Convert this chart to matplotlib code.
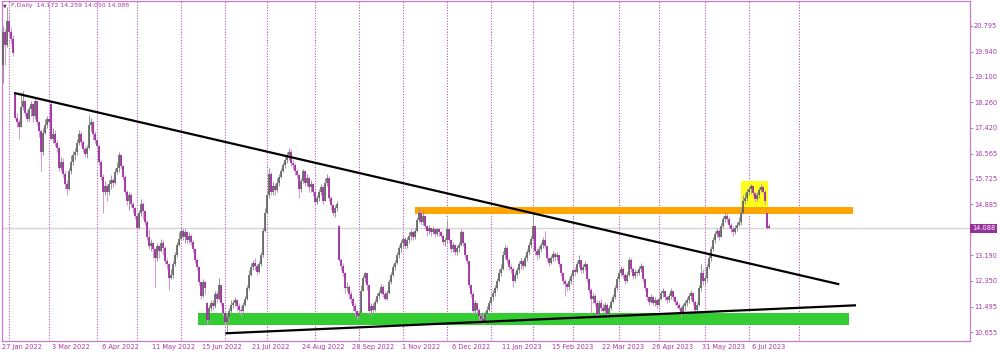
import matplotlib
matplotlib.use("Agg")
import matplotlib.pyplot as plt
from matplotlib.patches import Rectangle

# ---------------- data ----------------
closes = [
    20.6, 20.15, 20.95, 20.6, 20.35, 19.9, 17.75, 17.6, 17.45, 18.1,
    18.3, 17.9, 17.7, 18.05, 18.2, 17.8, 18.3, 17.6, 17.3, 16.6,
    17.25, 17.5, 17.7, 17.6, 17.05, 17.2, 16.9, 16.75, 16.1, 16.3,
    15.9, 15.55, 15.4, 16.0, 16.3, 16.5, 16.6, 16.9, 17.2, 16.95,
    16.7, 16.55, 16.75, 17.5, 17.6, 17.2, 17.0, 16.8, 16.3, 15.8,
    15.3, 15.5, 15.3, 15.55, 15.7, 15.6, 15.95, 16.1, 16.5, 16.15,
    15.8, 15.3, 15.0, 15.2, 14.9, 14.75, 14.5, 14.1, 14.6, 14.9,
    14.65, 14.3, 13.8, 13.5, 13.6, 13.4, 13.1, 13.5, 13.35, 13.6,
    13.45, 13.0, 12.9, 12.45, 12.55, 12.9, 13.2, 13.55, 13.75, 14.0,
    13.8, 13.95, 13.7, 13.85, 13.65, 13.4, 13.05, 12.8, 12.3, 11.85,
    12.3, 12.1, 11.05, 11.45, 11.6, 11.5, 11.9, 11.75, 12.2, 11.6,
    11.3, 11.0, 11.15, 11.35, 11.55, 11.6, 11.7, 11.5, 11.4, 11.35,
    11.55, 11.75, 12.1, 12.55, 12.8, 12.95, 12.85, 12.65, 12.9, 13.2,
    14.0, 14.6, 15.2, 15.9, 15.3, 15.5, 15.35, 15.6, 15.8, 16.0,
    16.2, 16.35, 16.5, 16.6, 16.25, 16.2, 16.0, 15.85, 15.4, 15.65,
    16.0, 15.6, 15.75, 15.45, 15.55, 15.3, 14.95, 15.1, 15.3, 15.45,
    15.0, 15.6, 15.75, 15.1, 14.85, 14.6, 14.75, 14.9, 13.05, 12.85,
    12.6, 12.1, 12.15, 11.9, 11.75, 11.5, 11.35, 11.2, 11.3, 12.0,
    12.45, 12.6, 12.2, 11.35, 11.5, 11.4, 11.65, 11.85, 11.95, 12.15,
    11.9, 11.75, 11.95, 12.3, 12.55, 12.8, 12.95, 13.2, 13.45, 13.6,
    13.75, 13.5, 13.7, 13.85, 13.95, 13.8, 14.0, 14.35, 14.6, 14.3,
    14.5, 14.15, 14.0, 14.1, 13.95, 14.05, 13.9, 14.05, 13.95, 13.85,
    13.65, 13.7, 14.05, 13.7, 13.4, 13.55, 13.3, 13.45, 13.55, 13.95,
    13.6, 13.2, 13.0, 12.2, 11.9, 11.35, 11.6, 11.4, 11.2, 11.1,
    11.0, 11.25, 11.4, 11.6, 11.8, 11.95, 12.1, 12.35, 12.6, 12.75,
    13.2, 13.45, 13.05, 12.8, 12.75, 12.35, 12.55, 12.7, 12.9, 13.0,
    12.85, 13.1, 13.3, 13.55, 13.75, 14.15, 13.35, 13.2, 13.4, 13.55,
    13.7, 13.5, 13.1, 12.95, 13.1, 13.25, 13.15, 13.2, 12.9, 12.6,
    12.35, 12.25, 12.15, 12.35, 12.5, 12.7, 12.65, 12.9, 13.05, 12.7,
    12.8, 12.9, 12.4, 12.05, 11.75, 11.85, 11.6, 11.25, 11.6, 11.45,
    11.35, 11.55, 11.25, 11.45, 11.65, 11.8, 12.1, 12.4, 12.6, 12.75,
    12.55, 12.35, 12.55, 13.05, 12.75, 12.5, 12.65, 12.6, 12.75, 12.85,
    12.4, 12.1, 11.8, 11.65, 11.8, 11.6, 11.7, 11.55, 11.75, 11.95,
    12.0, 11.8, 11.7, 11.85, 12.0, 11.8, 11.65, 11.55, 11.45, 11.3,
    11.5, 11.6, 11.7, 11.85, 11.95, 11.65, 11.4, 11.55, 12.1, 12.6,
    12.35, 12.45, 12.8, 13.1, 13.4, 13.7, 13.9, 14.0, 13.8, 14.15,
    14.4, 14.5, 14.4, 14.2, 14.05, 13.95, 14.1, 14.2, 14.3, 14.6,
    15.0, 15.1, 15.3, 15.4, 15.5, 15.25, 15.05, 15.2, 15.35, 15.45,
    15.3, 15.0, 14.1, 14.088,
]
highs = [
    20.8, 20.7, 21.4, 21.2, 20.75, 20.5, 18.6, 17.9, 17.7, 18.6,
    18.65, 18.35, 18.0, 18.15, 18.3, 18.25, 18.45, 18.3, 17.65, 17.35,
    17.4, 17.7, 17.8, 17.85, 18.3, 17.4, 17.35, 17.0, 16.8, 16.45,
    16.4, 16.0, 15.7, 16.1, 16.5, 16.65, 16.75, 17.05, 17.35, 17.3,
    17.0, 16.8, 16.85, 17.85, 17.75, 17.65, 17.3, 17.05, 16.85, 16.35,
    15.9, 15.65, 15.55, 15.7, 15.85, 15.75, 16.1, 16.3, 16.6, 16.55,
    16.2, 15.85, 15.35, 15.3, 15.25, 14.95, 14.8, 14.55, 14.7, 15.05,
    14.95, 14.7, 14.35, 14.05, 13.75, 13.65, 13.45, 13.6, 13.55, 13.75,
    13.7, 13.5, 13.1, 12.95, 12.75, 13.0, 13.3, 13.65, 13.95, 14.1,
    14.1, 14.05, 14.0, 13.95, 13.9, 13.7, 13.45, 13.1, 12.85, 12.35,
    12.4, 12.35, 11.65, 11.55, 11.7, 11.7, 12.0, 12.0, 12.45, 12.15,
    11.6, 11.35, 11.3, 11.45, 11.7, 11.72, 11.8, 11.75, 11.6, 11.5,
    11.65, 11.85, 12.2, 12.7, 12.95, 13.05, 13.1, 12.9, 13.0, 13.3,
    14.1, 14.75, 15.35, 16.1, 15.95, 15.65, 15.6, 15.75, 15.9, 16.1,
    16.3, 16.45, 16.6, 16.75, 16.7, 16.35, 16.25, 16.05, 15.9, 15.75,
    16.05, 16.0, 15.9, 15.8, 15.7, 15.6, 15.4, 15.2, 15.4, 15.55,
    15.5, 15.75, 15.9, 15.8, 15.15, 14.9, 14.85, 15.0, 14.2, 13.1,
    12.95, 12.5, 12.3, 12.2, 12.0, 11.8, 11.6, 11.4, 11.4, 12.2,
    12.55, 12.65, 12.6, 12.1, 11.6, 11.6, 11.75, 11.95, 12.05, 12.25,
    12.2, 12.0, 12.05, 12.4, 12.65, 12.9, 13.05, 13.3, 13.55, 13.7,
    13.85, 13.8, 13.8, 13.95, 14.05, 14.0, 14.1, 14.45, 14.76, 14.65,
    14.7, 14.5, 14.2, 14.2, 14.1, 14.15, 14.1, 14.1, 14.1, 14.0,
    13.9, 13.8, 14.35, 14.0, 13.75, 13.65, 13.55, 13.55, 13.65, 14.05,
    14.0, 13.6, 13.25, 12.95, 12.25, 12.0, 11.7, 11.6, 11.45, 11.3,
    11.25, 11.35, 11.5, 11.7, 11.85, 12.05, 12.2, 12.45, 12.75, 12.9,
    13.35, 13.55, 13.5, 13.1, 12.9, 12.8, 12.65, 12.8, 13.0, 13.1,
    13.05, 13.2, 13.4, 13.65, 13.85, 14.6, 14.1, 13.45, 13.5, 13.65,
    13.8, 14.0, 13.45, 13.15, 13.2, 13.35, 13.3, 13.3, 13.2, 12.95,
    12.65, 12.4, 12.3, 12.45, 12.6, 12.75, 12.8, 13.0, 13.2, 13.0,
    12.9, 13.0, 12.9, 12.45, 12.1, 11.95, 11.9, 11.7, 11.7, 11.75,
    11.6, 11.65, 11.6, 11.55, 11.75, 11.9, 12.2, 12.5, 12.7, 12.85,
    12.8, 12.6, 12.65, 13.15, 13.1, 12.8, 12.75, 12.7, 12.85, 12.95,
    12.85, 12.4, 12.0, 11.85, 11.9, 11.85, 11.8, 11.75, 11.85, 12.05,
    12.1, 12.0, 11.85, 11.95, 12.1, 12.0, 11.85, 11.7, 11.6, 11.5,
    11.6, 11.7, 11.8, 11.95, 12.05, 11.95, 11.7, 11.65, 12.2, 12.9,
    12.75, 12.55, 12.9, 13.2, 13.5, 13.8, 14.0, 14.1, 14.05, 14.25,
    14.5, 14.62, 14.6, 14.45, 14.25, 14.15, 14.2, 14.3, 14.45, 14.75,
    15.2, 15.25, 15.4, 15.5, 15.55, 15.5, 15.3, 15.3, 15.45, 15.55,
    15.5, 15.35, 14.65, 14.259,
]
lows = [
    18.9, 19.5, 20.1, 20.4, 20.2, 19.8, 17.7, 17.45, 17.05, 17.45,
    18.0, 17.8, 17.6, 17.65, 17.8, 17.6, 17.7, 17.5, 17.1, 16.0,
    16.5, 17.2, 17.4, 17.5, 17.0, 16.9, 16.8, 16.6, 16.0, 16.0,
    15.8, 15.4, 15.2, 15.35, 15.9, 16.2, 16.35, 16.5, 16.85, 16.8,
    16.6, 16.45, 16.4, 16.7, 17.3, 17.0, 16.9, 16.7, 16.2, 15.7,
    14.6, 15.2, 15.0, 15.2, 15.4, 15.45, 15.55, 15.9, 15.95, 16.05,
    15.7, 15.2, 14.85, 14.7, 14.8, 14.6, 14.4, 14.0, 14.05, 14.5,
    14.4, 14.2, 13.7, 13.4, 13.35, 13.1, 12.15, 13.0, 13.1, 13.3,
    13.2, 12.9, 12.75, 12.05, 12.4, 12.45, 12.85, 13.15, 13.5, 13.7,
    13.7, 13.6, 13.6, 13.6, 13.55, 13.3, 12.95, 12.7, 12.2, 11.75,
    11.8, 11.9, 10.95, 11.0, 11.35, 11.4, 11.45, 11.6, 11.7, 11.5,
    11.2, 10.9, 10.62, 10.95, 11.3, 11.45, 11.5, 11.4, 11.3, 11.2,
    11.3, 11.5, 11.7, 12.05, 12.5, 12.7, 12.7, 12.55, 12.6, 12.85,
    13.15, 13.95, 14.55, 15.1, 15.2, 15.2, 15.2, 15.3, 15.5, 15.75,
    15.95, 16.1, 16.25, 16.35, 16.15, 16.05, 15.85, 15.75, 15.1, 15.3,
    15.6, 15.5, 15.5, 15.3, 15.3, 15.15, 14.85, 14.9, 15.0, 15.2,
    14.9, 15.0, 15.5, 15.0, 14.7, 14.5, 14.45, 14.65, 13.0, 12.7,
    12.5, 11.95, 12.0, 11.75, 11.6, 11.35, 11.2, 11.1, 11.1, 11.3,
    12.0, 12.3, 12.05, 11.25, 11.2, 11.3, 11.35, 11.6, 11.75, 11.9,
    11.8, 11.7, 11.7, 11.9, 12.25, 12.5, 12.7, 12.9, 13.1, 13.3,
    13.45, 13.4, 13.45, 13.6, 13.7, 13.7, 13.75, 13.95, 14.3, 14.2,
    14.2, 14.05, 13.85, 13.9, 13.85, 13.9, 13.8, 13.85, 13.85, 13.8,
    13.55, 13.5, 13.6, 13.6, 13.3, 13.3, 13.2, 13.2, 13.3, 13.5,
    13.5, 13.1, 12.9, 12.1, 11.8, 11.25, 11.3, 11.3, 11.1, 11.0,
    10.93, 10.95, 11.15, 11.35, 11.55, 11.7, 11.85, 12.05, 12.3, 12.5,
    12.7, 13.1, 12.95, 12.7, 12.6, 12.15, 12.3, 12.45, 12.6, 12.75,
    12.75, 12.8, 13.0, 13.25, 13.45, 13.7, 13.2, 13.05, 13.1, 13.3,
    13.45, 13.4, 13.0, 12.85, 12.9, 13.0, 13.0, 13.05, 12.8, 12.5,
    12.25, 11.85, 12.0, 12.05, 12.25, 12.4, 12.5, 12.6, 12.8, 12.6,
    12.6, 12.7, 12.3, 11.95, 11.3, 11.6, 11.5, 11.15, 11.2, 11.35,
    11.3, 11.3, 11.15, 11.2, 11.4, 11.6, 11.75, 12.05, 12.3, 12.5,
    12.45, 12.25, 12.3, 12.5, 12.65, 12.4, 12.45, 12.5, 12.55, 12.65,
    12.3, 12.0, 11.7, 11.55, 11.6, 11.55, 11.5, 11.45, 11.5, 11.7,
    11.8, 11.7, 11.6, 11.65, 11.75, 11.7, 11.55, 11.45, 11.4, 11.2,
    11.25, 11.4, 11.5, 11.6, 11.7, 11.55, 11.3, 11.35, 11.5, 12.0,
    12.2, 12.2, 12.3, 12.75, 13.0, 13.35, 13.6, 13.8, 13.7, 13.8,
    14.1, 14.3, 14.3, 14.1, 13.95, 13.85, 13.9, 14.0, 14.15, 14.2,
    14.55, 14.9, 15.0, 15.2, 15.25, 15.15, 14.95, 15.0, 15.1, 15.3,
    15.25, 14.9, 14.05, 14.05,
]
# opens that differ from the previous close (gaps), keyed by bar
gap_opens = {0: 19.5, 6: 18.55, 24: 18.2, 102: 11.6, 168: 14.15, 382: 14.6, 383: 14.172}

date_labels = ["27 Jan 2022", "3 Mar 2022", "6 Apr 2022", "11 May 2022", "15 Jun 2022",
               "21 Jul 2022", "24 Aug 2022", "28 Sep 2022", "1 Nov 2022", "6 Dec 2022",
               "11 Jan 2023", "15 Feb 2023", "22 Mar 2023", "26 Apr 2023", "31 May 2023",
               "6 Jul 2023"]
date_label_bars = [0, 25, 50, 75, 100, 125, 150, 175, 200, 225, 250, 275, 300, 325, 350, 375]
month_start_bars = [3, 23, 47, 67, 89, 111, 132, 156, 178, 200, 222, 244, 265, 285, 308,
                    328, 351, 373, 398]
price_ticks = [20.795, 19.940, 19.100, 18.260, 17.420, 16.565, 15.725, 14.885,
               13.190, 12.350, 11.495, 10.655]
last_price = 14.088
header = "F,Daily  14.172 14.259 14.050 14.088"

# drawn objects (bar index, price)
upper_trend = [(5.75, 18.57), (418.4, 12.234)]
lower_trend = [(111.4, 10.612), (426.75, 11.539)]
green_zone = (97.75, 423.25, 10.897, 11.294)
orange_zone = (206.25, 425.25, 14.572, 14.804)
yellow_box = (369.25, 382.75, 14.79, 15.655)

# ---------------- figure ----------------
W, H = 1000, 354
fig = plt.figure(figsize=(W / 100, H / 100), dpi=100)
fig.patch.set_facecolor("white")
ax = fig.add_axes([2 / W, 13 / H, 968 / W, 340 / H])
ax.set_xlim(-0.25, 483.75)
ax.set_ylim(10.357, 21.615)

frame_c = "#c77cc7"
text_c = "#a53aa5"
for s in ax.spines.values():
    s.set_color(frame_c)
    s.set_linewidth(0.9)

# month separators
for b in month_start_bars:
    ax.axvline(b, color="#b844b8", lw=0.75, ls=(0, (1.0, 1.6)), zorder=1)

# current price line
ax.axhline(last_price, color="#d4d4d4", lw=1.0, zorder=1)

# zones
for (x0, x1, y0, y1), col in [(green_zone, "#33cc33"), (orange_zone, "#ffa500"),
                               (yellow_box, "#ffff1a")]:
    ax.add_patch(Rectangle((x0, y0), x1 - x0, y1 - y0, facecolor=col,
                           edgecolor="none", zorder=2))

# candles
n = len(closes)
bull_x, bull_o, bull_c, bull_h, bull_l = [], [], [], [], []
bear_x, bear_o, bear_c, bear_h, bear_l = [], [], [], [], []
prev = None
for i in range(n):
    o = gap_opens.get(i, prev)
    c = closes[i]
    h = max(highs[i], o, c)
    l = min(lows[i], o, c)
    if c >= o:
        bull_x.append(i); bull_o.append(o); bull_c.append(c); bull_h.append(h); bull_l.append(l)
    else:
        bear_x.append(i); bear_o.append(o); bear_c.append(c); bear_h.append(h); bear_l.append(l)
    prev = c

ax.vlines(bull_x, bull_l, bull_h, color="#9a9a9a", lw=0.75, zorder=3)
ax.vlines(bear_x, bear_l, bear_h, color="#d59ad5", lw=0.75, zorder=3)
bo = [min(a, b) for a, b in zip(bull_o, bull_c)]
bc = [max(max(a, b), min(a, b) + 0.04) for a, b in zip(bull_o, bull_c)]
ax.vlines(bull_x, bo, bc, color="#606060", lw=1.2, zorder=4)
so = [min(a, b) for a, b in zip(bear_o, bear_c)]
sc = [max(max(a, b), min(a, b) + 0.04) for a, b in zip(bear_o, bear_c)]
ax.vlines(bear_x, so, sc, color="#9a229a", lw=1.2, zorder=4)

# trend lines
for seg in (upper_trend, lower_trend):
    ax.plot([seg[0][0], seg[1][0]], [seg[0][1], seg[1][1]], color="black",
            lw=1.6, solid_capstyle="butt", zorder=5)

# right price axis
ax.yaxis.tick_right()
ax.set_yticks(price_ticks)
ax.set_yticklabels([f"{v:.3f}" for v in price_ticks])
ax.tick_params(axis="y", colors=frame_c, labelcolor=text_c, length=2.0, width=0.8,
               labelsize=4.8, pad=0.8)
ax.set_xticks([])

# last price tag
ax.annotate(f"{last_price:.3f}", xy=(1.0, last_price), xycoords=("axes fraction", "data"),
            xytext=(1.4, 0), textcoords="offset points", ha="left", va="center",
            fontsize=4.8, color="white",
            bbox=dict(boxstyle="square,pad=0.22", facecolor="#96309a", edgecolor="none"))

# date labels
for b, t in zip(date_label_bars, date_labels):
    ax.annotate(t, xy=(b - 0.5, 0), xycoords=("data", "axes fraction"),
                xytext=(0, -2.5), textcoords="offset points", ha="left", va="top",
                fontsize=4.8, color=text_c, annotation_clip=False)

# header
fig.text(3 / W, 1 - 6 / H, "\u25BC", fontsize=3.5, color="#7a2a7a", ha="left", va="center")
fig.text(11 / W, 1 - 6 / H, header, fontsize=4.5, color=text_c, ha="left", va="center")

fig.savefig("out.png", dpi=100, facecolor="white")
